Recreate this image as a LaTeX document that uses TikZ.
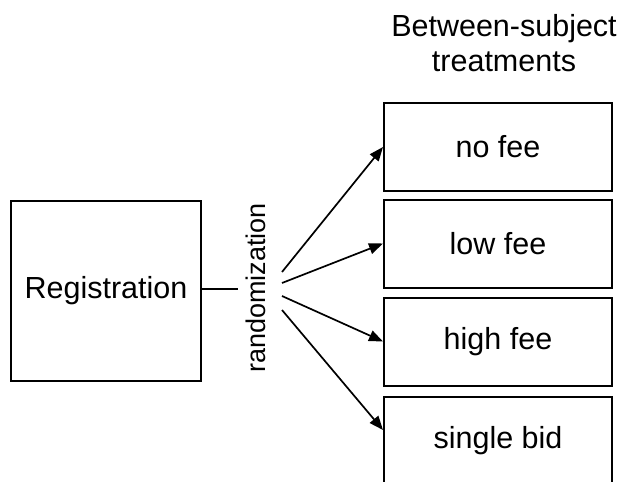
\documentclass[tikz,border=0pt]{standalone}
\usepackage{fontspec}
\setmainfont{Liberation Sans}
\usetikzlibrary{arrows.meta}
\begin{document}
\begin{tikzpicture}[x=1pt,y=-1pt,
  box/.style={draw,line width=2pt,minimum width=228pt,minimum height=88pt,inner sep=0pt,font=\fontsize{30.5}{35}\selectfont},
  lbl/.style={font=\fontsize{30.5}{35}\selectfont,inner sep=0pt},
  conn/.style={line width=1.7pt},
  arr/.style={line width=1.7pt,-{Triangle[length=14pt,width=11pt]}}]
\useasboundingbox (0,0) rectangle (625,482);
\clip (0,0) rectangle (625,482);
\node[box,minimum width=190pt,minimum height=180pt] (reg) at (106,291) {Registration};
\node[lbl,font=\fontsize{27}{30}\selectfont,rotate=90] (rnd) at (256,288) {randomization};
\node[lbl,anchor=base] (h1) at (504,36) {Between-subject};
\node[lbl,anchor=base] (h2) at (504,71) {treatments};
\node[box] (b1) at (498,147) {no fee};
\node[box] (b2) at (498,243.5) {low fee};
\node[box] (b3) at (498,341.5) {high fee};
\node[box] (b4) at (498,441) {single bid};
\coordinate (e1) at (238,289);
\coordinate (s1) at (282,272);
\coordinate (s2) at (282,283);
\coordinate (s3) at (282,296);
\coordinate (s4) at (282,310);
\draw[conn] (e1 -| reg.east) -- (e1);
\draw[arr] (s1) -- (b1.west);
\draw[arr] (s2) -- (b2.west);
\draw[arr] (s3) -- (b3.west);
\draw[arr] (s4) -- ([yshift=11pt]b4.west);
\end{tikzpicture}
\end{document}
